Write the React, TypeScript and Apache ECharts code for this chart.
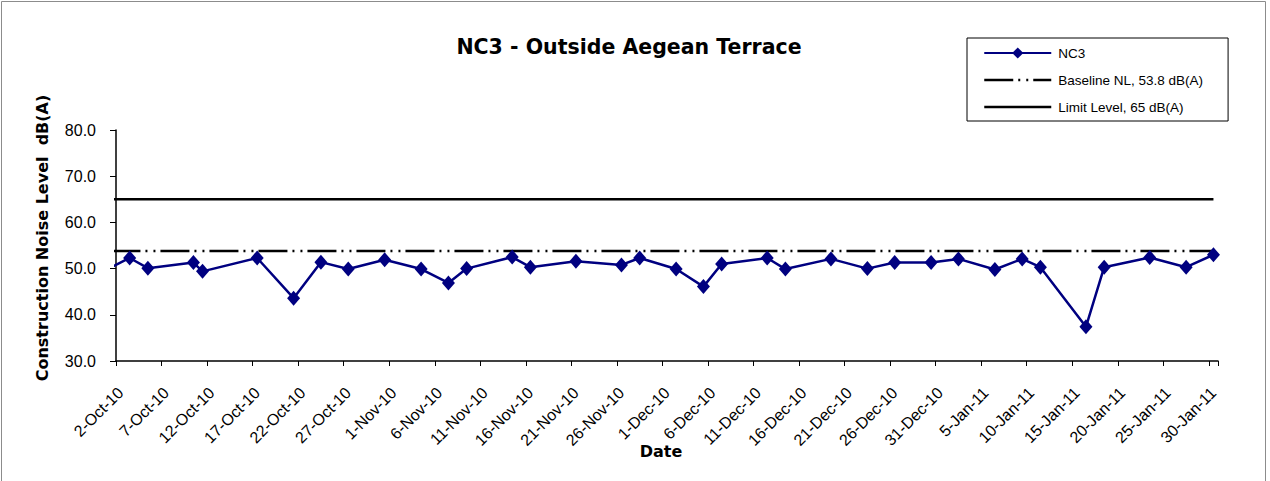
import React, { useEffect, useRef } from 'react';
import * as echarts from 'echarts';

// ---- data ----
const MONTHS = ['Jan', 'Feb', 'Mar', 'Apr', 'May', 'Jun', 'Jul', 'Aug', 'Sep', 'Oct', 'Nov', 'Dec'];
const AXIS_FIRST_DAY = Date.UTC(2010, 9, 1); // one day before the visible start (line runs in from the left)
const AXIS_LAST_DAY = Date.UTC(2011, 0, 30);
const fmtDate = (t: number) => {
  const d = new Date(t);
  return `${d.getUTCDate()}-${MONTHS[d.getUTCMonth()]}-${String(d.getUTCFullYear()).slice(2)}`;
};
const categories: string[] = [];
for (let t = AXIS_FIRST_DAY; t <= AXIS_LAST_DAY; t += 86400000) categories.push(fmtDate(t));

const ncDates = [
  '1-Oct-10', '3-Oct-10', '5-Oct-10', '10-Oct-10', '11-Oct-10', '17-Oct-10', '21-Oct-10', '24-Oct-10',
  '27-Oct-10', '31-Oct-10', '4-Nov-10', '7-Nov-10', '9-Nov-10', '14-Nov-10', '16-Nov-10', '21-Nov-10',
  '26-Nov-10', '28-Nov-10', '2-Dec-10', '5-Dec-10', '7-Dec-10', '12-Dec-10', '14-Dec-10', '19-Dec-10',
  '23-Dec-10', '26-Dec-10', '30-Dec-10', '2-Jan-11', '6-Jan-11', '9-Jan-11', '11-Jan-11', '16-Jan-11',
  '18-Jan-11', '23-Jan-11', '27-Jan-11', '30-Jan-11',
];
const ncValues = [
  50.3, 52.3, 50.1, 51.3, 49.4, 52.3, 43.6, 51.4,
  49.9, 51.9, 49.9, 46.9, 50.0, 52.5, 50.3, 51.6,
  50.8, 52.3, 49.9, 46.1, 51.0, 52.3, 49.9, 52.1,
  50.0, 51.3, 51.3, 52.1, 49.8, 52.1, 50.3, 37.4,
  50.3, 52.4, 50.3, 53.0,
];
const refDates = ['1-Oct-10', '30-Jan-11'];
const baselineLevel = 53.8;
const limitLevel = 65;

const seriesNames = ['NC3', 'Baseline NL, 53.8 dB(A)', 'Limit Level, 65 dB(A)'];
const yMin = 30;
const yMax = 80;
const yStep = 10;

const REG = 'Liberation Sans, Arial, sans-serif';
const BOLD = 'DejaVu Sans, sans-serif';

const baselineDash = [29, 5, 2, 6, 2, 5];

export default function App() {
  const ref = useRef<HTMLDivElement>(null);
  useEffect(() => {
    if (!ref.current) return;
    const chart = echarts.init(ref.current, undefined, { renderer: 'svg' });
    const tickShown = (i: number) => (i - 1) % 5 === 0;
    const hiddenSymbol = { color: 'rgba(0,0,0,0)', borderColor: 'rgba(0,0,0,0)', borderWidth: 0, opacity: 0 };
    chart.setOption({
      animation: false,
      backgroundColor: '#ffffff',
      grid: { left: 116, top: 130, right: 52, bottom: 120, containLabel: false },
      xAxis: {
        type: 'category',
        data: categories,
        boundaryGap: true,
        min: 1,
        axisLine: { lineStyle: { color: '#000', width: 1.5 } },
        axisTick: { show: true, interval: tickShown, length: 5, lineStyle: { color: '#000' } },
        axisLabel: {
          interval: tickShown,
          rotate: 45,
          margin: 29,
          fontFamily: REG,
          fontSize: 16,
          color: '#000',
        },
        splitLine: { show: false },
      },
      yAxis: {
        type: 'value',
        min: yMin,
        max: yMax,
        interval: yStep,
        axisLine: { show: true, lineStyle: { color: '#000', width: 1.5 } },
        axisTick: { show: true, length: 6, lineStyle: { color: '#000' } },
        axisLabel: {
          margin: 20,
          fontFamily: REG,
          fontSize: 16,
          color: '#000',
          formatter: (v: number) => v.toFixed(1),
        },
        splitLine: { show: false },
      },
      legend: {
        orient: 'vertical',
        left: 967,
        top: 38,
        padding: [8, 25, 7, 16],
        itemWidth: 67,
        itemHeight: 14,
        itemGap: 13,
        borderColor: '#000',
        borderWidth: 1,
        backgroundColor: '#fff',
        textStyle: { fontFamily: REG, fontSize: 13.5, color: '#000', padding: [0, 0, 0, 2] },
        data: [
          { name: seriesNames[0] },
          {
            name: seriesNames[1],
            itemStyle: hiddenSymbol,
            lineStyle: { color: '#000', width: 2.5, type: baselineDash, opacity: 1 },
          },
          {
            name: seriesNames[2],
            itemStyle: hiddenSymbol,
            lineStyle: { color: '#000', width: 2.5, opacity: 1 },
          },
        ],
      },
      graphic: [
        {
          type: 'rect',
          silent: true,
          shape: { x: 1.5, y: 1.5, width: 1264, height: 500 },
          style: { fill: 'none', stroke: '#8c8c8c', lineWidth: 1 },
          z: -10,
        },
        {
          type: 'text',
          x: 629,
          y: 47,
          style: {
            text: 'NC3 - Outside Aegean Terrace',
            fontFamily: BOLD,
            fontWeight: 'bold',
            fontSize: 20.5,
            fill: '#000',
            align: 'center',
            verticalAlign: 'middle',
          },
        },
        {
          type: 'text',
          x: 42,
          y: 238,
          rotation: Math.PI / 2,
          style: {
            text: 'Construction Noise Level  dB(A)',
            fontFamily: BOLD,
            fontWeight: 'bold',
            fontSize: 16,
            fill: '#000',
            align: 'center',
            verticalAlign: 'middle',
          },
        },
        {
          type: 'text',
          x: 661,
          y: 451,
          style: {
            text: 'Date',
            fontFamily: BOLD,
            fontWeight: 'bold',
            fontSize: 16,
            fill: '#000',
            align: 'center',
            verticalAlign: 'middle',
          },
        },
      ],
      series: [
        {
          name: seriesNames[0],
          type: 'line',
          data: ncDates.map((d, i) => [d, ncValues[i]]),
          clip: true,
          symbol: 'diamond',
          symbolSize: [13, 15],
          showSymbol: true,
          showAllSymbol: true,
          itemStyle: { color: '#000080' },
          lineStyle: { color: '#000080', width: 2.5 },
          z: 5,
        },
        {
          name: seriesNames[1],
          type: 'line',
          data: refDates.map((d) => [d, baselineLevel]),
          clip: true,
          symbol: 'none',
          itemStyle: { color: '#000' },
          lineStyle: { color: '#000', width: 2.5, type: baselineDash },
          z: 3,
          silent: true,
        },
        {
          name: seriesNames[2],
          type: 'line',
          data: refDates.map((d) => [d, limitLevel]),
          clip: true,
          symbol: 'none',
          itemStyle: { color: '#000' },
          lineStyle: { color: '#000', width: 2.5 },
          z: 3,
          silent: true,
        },
      ],
    });
    return () => chart.dispose();
  }, []);
  return (
    <div
      ref={ref}
      style={{ position: 'absolute', left: 0, top: 0, width: 1270, height: 481, background: '#fff' }}
    />
  );
}
